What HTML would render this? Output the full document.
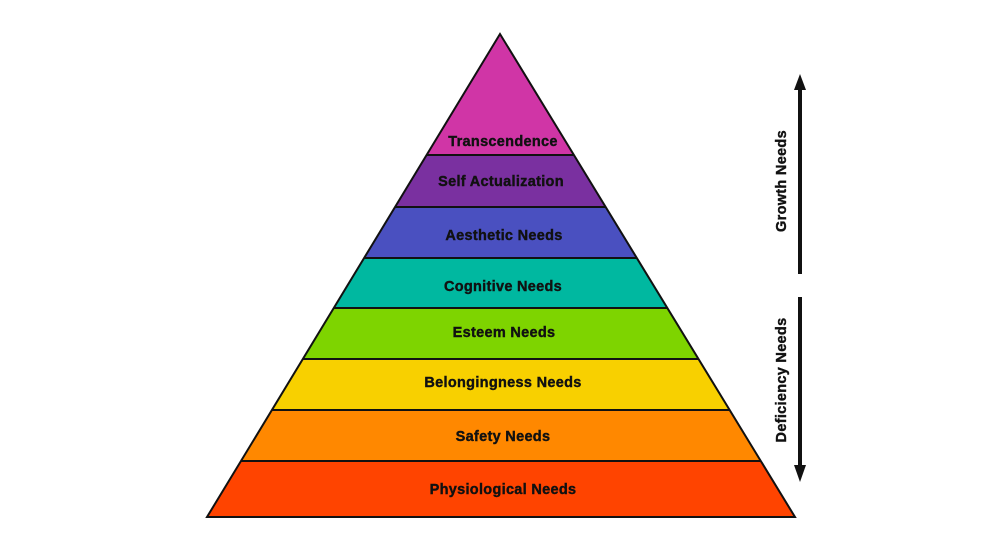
<!DOCTYPE html>
<html><head><meta charset="utf-8"><style>
html,body{margin:0;padding:0;background:#fff;}
svg{display:block;}
text{font-family:"Liberation Sans",Arial,sans-serif;font-weight:bold;font-size:14.5px;letter-spacing:0.3px;fill:#111;stroke:#111;stroke-width:0.4px;}
</style></head><body>
<svg width="1000" height="550" viewBox="0 0 1000 550" xmlns="http://www.w3.org/2000/svg">
<defs><clipPath id="tri"><polygon points="500,34 207,517 795,517"/></clipPath></defs>
<g clip-path="url(#tri)">
<rect x="0" y="0" width="1000" height="155" fill="#d035a6"/>
<rect x="0" y="155" width="1000" height="52" fill="#7a30a0"/>
<rect x="0" y="207" width="1000" height="51" fill="#4a50c0"/>
<rect x="0" y="258" width="1000" height="50" fill="#00b8a0"/>
<rect x="0" y="308" width="1000" height="51" fill="#7ed400"/>
<rect x="0" y="359" width="1000" height="51" fill="#f8d000"/>
<rect x="0" y="410" width="1000" height="51" fill="#ff8800"/>
<rect x="0" y="461" width="1000" height="60" fill="#ff4400"/>
<g stroke="#111" stroke-width="2">
<line x1="0" y1="155" x2="1000" y2="155"/>
<line x1="0" y1="207" x2="1000" y2="207"/>
<line x1="0" y1="258" x2="1000" y2="258"/>
<line x1="0" y1="308" x2="1000" y2="308"/>
<line x1="0" y1="359" x2="1000" y2="359"/>
<line x1="0" y1="410" x2="1000" y2="410"/>
<line x1="0" y1="461" x2="1000" y2="461"/>
</g>
</g>
<polygon points="500,34 207,517 795,517" fill="none" stroke="#111" stroke-width="2"/>
<g text-anchor="middle">
<text x="503" y="146">Transcendence</text>
<text x="501" y="186">Self Actualization</text>
<text x="504" y="240">Aesthetic Needs</text>
<text x="503" y="291">Cognitive Needs</text>
<text x="504" y="337">Esteem Needs</text>
<text x="503" y="387">Belongingness Needs</text>
<text x="503" y="441">Safety Needs</text>
<text x="503" y="494">Physiological Needs</text>
</g>
<line x1="800" y1="86" x2="800" y2="274" stroke="#111" stroke-width="4"/>
<polygon points="800,74 794,90 806,90" fill="#111"/>
<line x1="800" y1="297" x2="800" y2="468" stroke="#111" stroke-width="4"/>
<polygon points="800,482 794,465 806,465" fill="#111"/>
<text transform="translate(786,181) rotate(-90)" text-anchor="middle">Growth Needs</text>
<text transform="translate(786,380) rotate(-90)" text-anchor="middle">Deficiency Needs</text>
</svg>
</body></html>
